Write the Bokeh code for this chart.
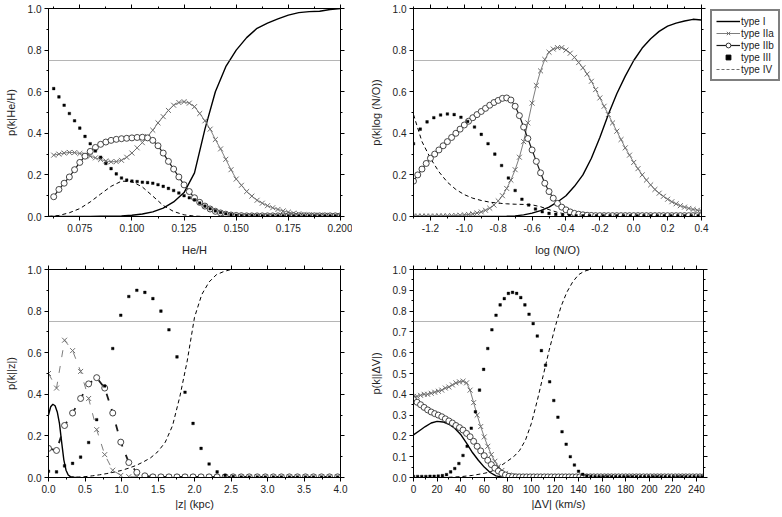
import numpy as np
from bokeh.plotting import figure
from bokeh.models import (FixedTicker, LinearAxis, Span, Legend, LegendItem,
                          NumeralTickFormatter, ColumnDataSource, Range1d,
                          CustomLabelingPolicy)
from bokeh.layouts import column, row
from bokeh.embed import file_html
from bokeh.resources import INLINE

FONT = "Liberation Sans"
GRAY = "#6e6e6e"

# ---------------- Panel 1: He/H ----------------
HE_X = np.round(np.arange(0.0625, 0.20001, 0.0025), 4)
HE_IIA = [0.295, 0.30, 0.305, 0.308, 0.307, 0.303, 0.297, 0.29, 0.282, 0.274,
          0.267, 0.263, 0.264, 0.27, 0.285, 0.305, 0.33, 0.355, 0.385, 0.415,
          0.45, 0.48, 0.51, 0.535, 0.548, 0.552, 0.545, 0.528, 0.495, 0.46,
          0.42, 0.37, 0.325, 0.275, 0.225, 0.18, 0.15, 0.12, 0.098, 0.078,
          0.064, 0.052, 0.042, 0.034, 0.027, 0.021, 0.016, 0.013, 0.01, 0.008,
          0.007, 0.006, 0.005, 0.004, 0.004, 0.004]
HE_IIB = [0.095, 0.13, 0.16, 0.19, 0.225, 0.26, 0.29, 0.313, 0.332, 0.347,
          0.358, 0.366, 0.371, 0.374, 0.376, 0.378, 0.38, 0.381, 0.378, 0.366,
          0.34, 0.305, 0.265, 0.228, 0.19, 0.152, 0.12, 0.09, 0.068, 0.05,
          0.036, 0.025, 0.017, 0.011, 0.007, 0.005,
          0.004, 0.003, 0.003, 0.003, 0.003, 0.003, 0.003, 0.003, 0.003, 0.003,
          0.003, 0.003, 0.003, 0.003, 0.003, 0.003, 0.003, 0.003, 0.003, 0.003]
HE_III = [0.615, 0.575, 0.535, 0.495, 0.46, 0.425, 0.385, 0.35, 0.315, 0.285,
          0.255, 0.23, 0.205, 0.185, 0.175, 0.17, 0.168, 0.165, 0.163, 0.16,
          0.153, 0.145, 0.135, 0.125, 0.113, 0.10, 0.09, 0.08, 0.065, 0.05,
          0.037, 0.027, 0.019, 0.013, 0.009, 0.006,
          0.005, 0.004, 0.004, 0.004, 0.003, 0.003, 0.003, 0.003, 0.003, 0.003,
          0.003, 0.003, 0.003, 0.003, 0.003, 0.003, 0.003, 0.003, 0.003, 0.003]
HE_LX = np.round(np.arange(0.06, 0.20001, 0.005), 3)
HE_I = [0.0, 0.0, 0.0, 0.0, 0.0, 0.001, 0.002, 0.003, 0.006, 0.012,
        0.022, 0.04, 0.07, 0.115, 0.21, 0.42, 0.60, 0.72, 0.80, 0.86,
        0.905, 0.93, 0.95, 0.968, 0.98, 0.985, 0.987, 0.995, 1.0]
HE_IV = [0.0, 0.005, 0.018, 0.038, 0.07, 0.108, 0.145, 0.17, 0.168, 0.142,
         0.098, 0.053, 0.024, 0.008, 0.002, 0.0, 0.0, 0.0, 0.0, 0.0,
         0.0, 0.0, 0.0, 0.0, 0.0, 0.0, 0.0, 0.0, 0.0]

# ---------------- Panel 2: log (N/O) ----------------
NO_X = np.round(-1.3 + 0.025 * np.arange(69), 3)
NO_IIA = [0.002, 0.002, 0.002, 0.002, 0.002, 0.002, 0.003, 0.003, 0.003, 0.004,
          0.005, 0.006, 0.008,
          0.01, 0.013, 0.017, 0.022, 0.03, 0.04, 0.055, 0.075, 0.10, 0.135,
          0.175, 0.225, 0.285, 0.36, 0.45, 0.545, 0.63, 0.70, 0.755, 0.79,
          0.805, 0.812, 0.812,
          0.80, 0.785, 0.765, 0.74, 0.715, 0.685, 0.65, 0.61, 0.57, 0.53,
          0.49, 0.45, 0.41, 0.37, 0.33, 0.295, 0.26, 0.23, 0.20, 0.175,
          0.152, 0.13, 0.112, 0.097, 0.083, 0.071, 0.061, 0.052, 0.045, 0.039,
          0.034, 0.03, 0.026]
NO_IIB = [0.17, 0.2, 0.228, 0.255, 0.28, 0.30, 0.32, 0.34, 0.36, 0.38,
          0.40, 0.42, 0.44, 0.458, 0.475, 0.49, 0.505, 0.52, 0.535, 0.548,
          0.558, 0.568, 0.57, 0.56, 0.53, 0.485, 0.43, 0.375, 0.32, 0.265,
          0.21, 0.16, 0.12, 0.088, 0.063, 0.045, 0.032, 0.022, 0.015, 0.011,
          0.008, 0.006, 0.005,
          0.004, 0.004, 0.004, 0.004, 0.004, 0.004, 0.004, 0.004, 0.004, 0.004,
          0.004, 0.004, 0.004, 0.004, 0.004, 0.004, 0.004, 0.004, 0.004, 0.004,
          0.004, 0.004, 0.004, 0.004, 0.004, 0.004]
NO_III_X = np.round(-1.3 + 0.04 * np.arange(43), 3)
NO_III = [0.35, 0.42, 0.455, 0.475, 0.488, 0.493, 0.49, 0.477, 0.457, 0.43,
          0.395, 0.35, 0.30, 0.245, 0.185, 0.125, 0.083, 0.055, 0.036, 0.023,
          0.015, 0.01, 0.006, 0.004,
          0.003, 0.003, 0.003, 0.003, 0.003, 0.003, 0.003, 0.003, 0.003, 0.003,
          0.003, 0.003, 0.003, 0.003, 0.003, 0.003, 0.003, 0.003, 0.003]
NO_LX = np.round(-1.3 + 0.05 * np.arange(35), 3)
NO_I = [0.0, 0.0, 0.0, 0.0, 0.0, 0.0, 0.0, 0.0, 0.0, 0.0, 0.0,
        0.001, 0.003, 0.008, 0.016, 0.028, 0.045, 0.07, 0.10, 0.145, 0.20,
        0.28, 0.38, 0.49, 0.59, 0.675, 0.75, 0.81, 0.855, 0.89, 0.915,
        0.93, 0.94, 0.948, 0.945]
NO_IV = [0.49, 0.36, 0.28, 0.215, 0.165, 0.13, 0.105, 0.088, 0.077, 0.069,
         0.064, 0.061, 0.059, 0.058, 0.056, 0.047, 0.033, 0.02, 0.011, 0.006,
         0.003, 0.002, 0.001, 0.0, 0.0, 0.0, 0.0, 0.0, 0.0, 0.0,
         0.0, 0.0, 0.0, 0.0, 0.0]

# ---------------- Panel 3: |z| (kpc) ----------------
Z_X = np.round(0.11 * np.arange(37), 2)
Z_IIA = [0.50, 0.43, 0.66, 0.61, 0.51, 0.38, 0.23, 0.11, 0.035, 0.01, 0.004,
         0.002, 0.002, 0.002, 0.002, 0.002, 0.002, 0.002, 0.002, 0.002, 0.002,
         0.002, 0.002, 0.002, 0.002, 0.002, 0.002, 0.002, 0.002, 0.002, 0.002,
         0.002, 0.002, 0.002, 0.002, 0.002, 0.002]
Z_IIB = [0.14, 0.13, 0.25, 0.31, 0.38, 0.45, 0.48, 0.43, 0.31, 0.17, 0.072,
         0.025, 0.008,
         0.003, 0.003, 0.003, 0.003, 0.003, 0.003, 0.003, 0.003, 0.003, 0.003,
         0.003, 0.003, 0.003, 0.003, 0.003, 0.003, 0.003, 0.003, 0.003, 0.003,
         0.003, 0.003, 0.003, 0.003]
Z_III = [0.03, 0.027, 0.056, 0.068, 0.098, 0.168, 0.278, 0.44, 0.62, 0.78,
         0.87, 0.90, 0.89, 0.86, 0.80, 0.71, 0.58, 0.41, 0.26, 0.14,
         0.065, 0.027, 0.01, 0.004,
         0.002, 0.002, 0.002, 0.002, 0.002, 0.002, 0.002, 0.002, 0.002, 0.002,
         0.002, 0.002, 0.002]
Z_I_X = [0.0, 0.03, 0.06, 0.09, 0.12, 0.15, 0.18, 0.21, 0.24, 0.27, 0.30, 0.35, 0.40]
Z_I = [0.30, 0.34, 0.352, 0.345, 0.315, 0.26, 0.17, 0.085, 0.035, 0.012, 0.004, 0.001, 0.0]
Z_IV_X = [0.0, 0.3, 0.4, 0.5, 0.6, 0.7, 0.8, 0.9, 1.0, 1.1, 1.2, 1.3, 1.4, 1.5,
          1.6, 1.7, 1.8, 1.9, 2.0, 2.1, 2.2, 2.3, 2.4, 2.5]
Z_IV = [0.0, 0.0, 0.002, 0.004, 0.008, 0.013, 0.019, 0.026, 0.034, 0.045, 0.058,
        0.075, 0.095, 0.125, 0.17, 0.25, 0.39, 0.56, 0.77, 0.88, 0.94, 0.975,
        0.99, 1.0]

# ---------------- Panel 4: |dV| (km/s) ----------------
V_X = 3 * np.arange(83)
V_IIA = [0.39, 0.39, 0.395, 0.40, 0.40, 0.405, 0.41, 0.415, 0.42, 0.43,
         0.435, 0.445, 0.455, 0.46, 0.463, 0.455, 0.42, 0.36, 0.30, 0.245,
         0.195, 0.15, 0.11, 0.078, 0.053, 0.034, 0.02, 0.012, 0.008, 0.005,
         0.003, 0.003, 0.003, 0.003, 0.003, 0.003, 0.003, 0.003, 0.003, 0.003,
         0.003, 0.003, 0.003, 0.003, 0.003, 0.003, 0.003, 0.003, 0.003, 0.003,
         0.003, 0.003, 0.003, 0.003, 0.003, 0.003, 0.003, 0.003, 0.003, 0.003,
         0.003, 0.003, 0.003, 0.003, 0.003, 0.003, 0.003, 0.003, 0.003, 0.003,
         0.003, 0.003, 0.003, 0.003, 0.003, 0.003, 0.003, 0.003, 0.003, 0.003,
         0.003, 0.003, 0.003]
V_IIB = [0.375, 0.362, 0.35, 0.337, 0.325, 0.315, 0.307, 0.30, 0.292, 0.282,
         0.272, 0.262, 0.25, 0.24, 0.228, 0.212, 0.196, 0.174, 0.15, 0.128,
         0.105, 0.083, 0.062, 0.045, 0.031, 0.02, 0.012, 0.006, 0.004,
         0.003, 0.003, 0.003, 0.003, 0.003, 0.003, 0.003, 0.003, 0.003, 0.003,
         0.003, 0.003, 0.003, 0.003, 0.003, 0.003, 0.003, 0.003, 0.003, 0.003,
         0.003, 0.003, 0.003, 0.003, 0.003, 0.003, 0.003, 0.003, 0.003, 0.003,
         0.003, 0.003, 0.003, 0.003, 0.003, 0.003, 0.003, 0.003, 0.003, 0.003,
         0.003, 0.003, 0.003, 0.003, 0.003, 0.003, 0.003, 0.003, 0.003, 0.003,
         0.003, 0.003, 0.003, 0.003]
V_III_X = 3.5 * np.arange(71)
V_III = [0.005, 0.005, 0.005, 0.005, 0.006, 0.006, 0.007, 0.009, 0.014, 0.027,
         0.043, 0.067, 0.106, 0.15, 0.237, 0.316, 0.42, 0.52, 0.62, 0.71,
         0.78, 0.83, 0.86, 0.885, 0.89, 0.885, 0.865, 0.83, 0.785, 0.74,
         0.68, 0.61, 0.54, 0.46, 0.37, 0.29, 0.22, 0.16, 0.10, 0.06,
         0.03, 0.015, 0.007, 0.004,
         0.003, 0.003, 0.003, 0.003, 0.003, 0.003, 0.003, 0.003, 0.003, 0.003,
         0.003, 0.003, 0.003, 0.003, 0.003, 0.003, 0.003, 0.003, 0.003, 0.003,
         0.003, 0.003, 0.003, 0.003, 0.003, 0.003, 0.003]
V_I_X = [0, 5, 10, 15, 20, 25, 30, 35, 40, 45, 50, 55, 60, 65, 70, 75, 80]
V_I = [0.205, 0.225, 0.245, 0.262, 0.27, 0.267, 0.256, 0.237, 0.207, 0.165,
       0.12, 0.083, 0.05, 0.024, 0.008, 0.002, 0.0]
V_IV_X = [0, 20, 30, 40, 50, 60, 65, 70, 75, 80, 85, 90, 95, 100, 105, 110,
          115, 120, 125, 130, 135, 140, 145, 150]
V_IV = [0.0, 0.0, 0.001, 0.004, 0.01, 0.02, 0.027, 0.04, 0.06, 0.08, 0.10,
        0.13, 0.18, 0.26, 0.37, 0.49, 0.61, 0.72, 0.82, 0.89, 0.94, 0.975,
        0.992, 1.0]

THRESHOLD = 0.75
LEGEND_LABELS = ["type I", "type IIa", "type IIb", "type III", "type IV"]

# tick definitions
HE_TICKS = [0.075, 0.1, 0.125, 0.15, 0.175, 0.2]
HE_MINOR = [0.0625, 0.0875, 0.1125, 0.1375, 0.1625, 0.1875]
NO_TICKS = [-1.2, -1.0, -0.8, -0.6, -0.4, -0.2, 0.0, 0.2, 0.4]
NO_MINOR = [-1.3, -1.1, -0.9, -0.7, -0.5, -0.3, -0.1, 0.1, 0.3]
Z_TICKS = [0.0, 0.5, 1.0, 1.5, 2.0, 2.5, 3.0, 3.5, 4.0]
Z_MINOR = [0.25, 0.75, 1.25, 1.75, 2.25, 2.75, 3.25, 3.75]
V_TICKS = list(range(0, 241, 20))
V_MINOR = list(range(10, 251, 20))
P_TICKS = [0.0, 0.2, 0.4, 0.6, 0.8, 1.0]
P_MINOR = [0.1, 0.3, 0.5, 0.7, 0.9]
P10_TICKS = [round(0.1 * i, 1) for i in range(11)]
P10_MINOR = [round(0.05 + 0.1 * i, 2) for i in range(10)]


def style_axis(ax, ticker, fmt, show_labels=True, label=None, lab_standoff=5):
    ax.ticker = ticker
    ax.formatter = NumeralTickFormatter(format=fmt)
    ax.axis_line_color = "black"
    ax.major_tick_line_color = "black"
    ax.minor_tick_line_color = "black"
    ax.major_tick_in = 0
    ax.major_tick_out = 4
    ax.minor_tick_in = 0
    ax.minor_tick_out = 2
    ax.major_label_text_font = FONT
    ax.major_label_text_color = "#222222"
    ax.axis_label_text_font = FONT
    ax.axis_label_text_font_style = "normal"
    ax.axis_label_text_font_size = "11px"
    ax.axis_label_text_color = "#222222"
    if show_labels:
        ax.major_label_text_font_size = "10px"
        ax.major_label_standoff = 3
        ax.axis_label_standoff = lab_standoff
        if label:
            ax.axis_label = label
    else:
        ax.major_label_text_font_size = "1px"
        ax.major_label_policy = CustomLabelingPolicy(code="return new Set()")
        ax.major_label_standoff = 0


def make_fig(w, h, xr, borders, xt, xm, yt, ym, xfmt, xlabel, ylabel, xstand):
    bl, br, bt, bb = borders
    p = figure(width=w, height=h, x_range=Range1d(*xr), y_range=Range1d(0, 1),
               output_backend="svg", toolbar_location=None,
               min_border_left=bl, min_border_right=br,
               min_border_top=bt, min_border_bottom=bb)
    p.xgrid.visible = False
    p.ygrid.visible = False
    p.outline_line_color = "black"
    p.background_fill_color = "white"
    p.border_fill_color = "white"
    xtick = FixedTicker(ticks=xt, minor_ticks=xm)
    ytick = FixedTicker(ticks=yt, minor_ticks=ym)
    style_axis(p.xaxis[0], xtick, xfmt, True, xlabel, xstand)
    style_axis(p.yaxis[0], ytick, "0.0", True, ylabel, 8)
    top = LinearAxis()
    style_axis(top, FixedTicker(ticks=xt, minor_ticks=xm), xfmt, False)
    p.add_layout(top, "above")
    right = LinearAxis()
    style_axis(right, FixedTicker(ticks=yt, minor_ticks=ym), "0.0", False)
    p.add_layout(right, "right")
    p.add_layout(Span(location=THRESHOLD, dimension="width", line_color="#6a6a6a",
                      line_width=1, line_dash="1 1"))
    return p


def draw(p, lx, yI, yIV, mx, yIIa, yIIb, dx, yIII, dash2=None):
    p.line(lx[0], yI, line_color="black", line_width=1.4)
    p.line(lx[1], yIV, line_color="black", line_width=1, line_dash="4 3")
    kw2a = dict(line_color=GRAY, line_width=0.9)
    kw2b = dict(line_color="#1a1a1a", line_width=1.2)
    if dash2:
        kw2a["line_dash"] = dash2[0]
        kw2b["line_dash"] = dash2[1]
        kw2b["line_width"] = 1.8
    p.line(mx, yIIa, **kw2a)
    p.line(mx, yIIb, **kw2b)
    p.scatter(mx, yIIa, marker="x", size=7, line_color=GRAY, line_width=1)
    p.scatter(mx, yIIb, marker="circle", size=6, fill_color="white",
              line_color="#333333", line_width=0.9)
    p.scatter(dx, yIII, marker="square", size=2.6, fill_color="black",
              line_color="black", line_width=0.4)


W1, W2, WL = 352, 357, 73
H1, H2 = 259, 256

p1 = make_fig(W1, H1, (0.06, 0.2), (48, 12, 1, 43), HE_TICKS, HE_MINOR,
              P_TICKS, P_MINOR, "0.000", "He/H", "p(k|He/H)", 9)
draw(p1, (HE_LX, HE_LX), HE_I, HE_IV, HE_X, HE_IIA, HE_IIB, HE_X, HE_III)

p2 = make_fig(W2, H1, (-1.3, 0.4), (61, 0, 1, 43), NO_TICKS, NO_MINOR,
              P_TICKS, P_MINOR, "0.0", "log (N/O)", "p(k|log (N/O))", 9)
draw(p2, (NO_LX, NO_LX), NO_I, NO_IV, NO_X, NO_IIA, NO_IIB, NO_III_X, NO_III)

p3 = make_fig(W1, H2, (0.0, 4.0), (48, 12, 10, 38), Z_TICKS, Z_MINOR,
              P_TICKS, P_MINOR, "0.0", "|z| (kpc)", "p(k||z|)", 2)
draw(p3, (Z_I_X, Z_IV_X), Z_I, Z_IV, Z_X, Z_IIA, Z_IIB, Z_X, Z_III,
     dash2=("7 9", "7 9"))

p4 = make_fig(W2 + WL, H2, (0, 246), (61, 6 + WL, 10, 38), V_TICKS, V_MINOR,
              P10_TICKS, P10_MINOR, "0", "|\u0394V| (km/s)", "p(k||\u0394V|)", 2)
draw(p4, (V_I_X, V_IV_X), V_I, V_IV, V_X, V_IIA, V_IIB, V_III_X, V_III)

# legend-only panel: glyph stand-ins whose single point is NaN (never drawn)
pl = figure(width=WL, height=H1, x_range=Range1d(0, 1), y_range=Range1d(0, 1),
            output_backend="svg", toolbar_location=None,
            min_border_left=0, min_border_right=0, min_border_top=1,
            min_border_bottom=0)
pl.axis.visible = False
pl.xgrid.visible = False
pl.ygrid.visible = False
pl.outline_line_color = None
pl.background_fill_color = "white"
pl.border_fill_color = "white"
blank = ColumnDataSource(data=dict(x=[np.nan], y=[np.nan]))
lg_I = pl.line("x", "y", source=blank, line_color="black", line_width=1.4)
lg_IIa_l = pl.line("x", "y", source=blank, line_color=GRAY, line_width=0.9)
lg_IIa_m = pl.scatter("x", "y", source=blank, marker="x", size=7, line_color=GRAY)
lg_IIb_l = pl.line("x", "y", source=blank, line_color="#1a1a1a", line_width=1.2)
lg_IIb_m = pl.scatter("x", "y", source=blank, marker="circle", size=7,
                      fill_color="white", line_color="#333333")
lg_III = pl.scatter("x", "y", source=blank, marker="square", size=6,
                    fill_color="black", line_color="black")
lg_IV = pl.line("x", "y", source=blank, line_color=GRAY, line_width=1.2,
                line_dash="3 2")

legend = Legend(items=[
    LegendItem(label=LEGEND_LABELS[0], renderers=[lg_I]),
    LegendItem(label=LEGEND_LABELS[1], renderers=[lg_IIa_l, lg_IIa_m]),
    LegendItem(label=LEGEND_LABELS[2], renderers=[lg_IIb_l, lg_IIb_m]),
    LegendItem(label=LEGEND_LABELS[3], renderers=[lg_III]),
    LegendItem(label=LEGEND_LABELS[4], renderers=[lg_IV]),
], location="top_left")
legend.label_text_font = FONT
legend.label_text_font_size = "10px"
legend.label_text_color = "#222222"
legend.glyph_width = 24
legend.glyph_height = 12
legend.label_height = 12
legend.label_standoff = 1
legend.spacing = 0
legend.padding = 4
legend.margin = 1
legend.border_line_color = "black"
legend.border_line_width = 2
legend.background_fill_color = "white"
legend.background_fill_alpha = 1.0
pl.add_layout(legend)

layout = column(row(p1, p2, pl), row(p3, p4))
open("out.html", "w").write(file_html(layout, INLINE))
